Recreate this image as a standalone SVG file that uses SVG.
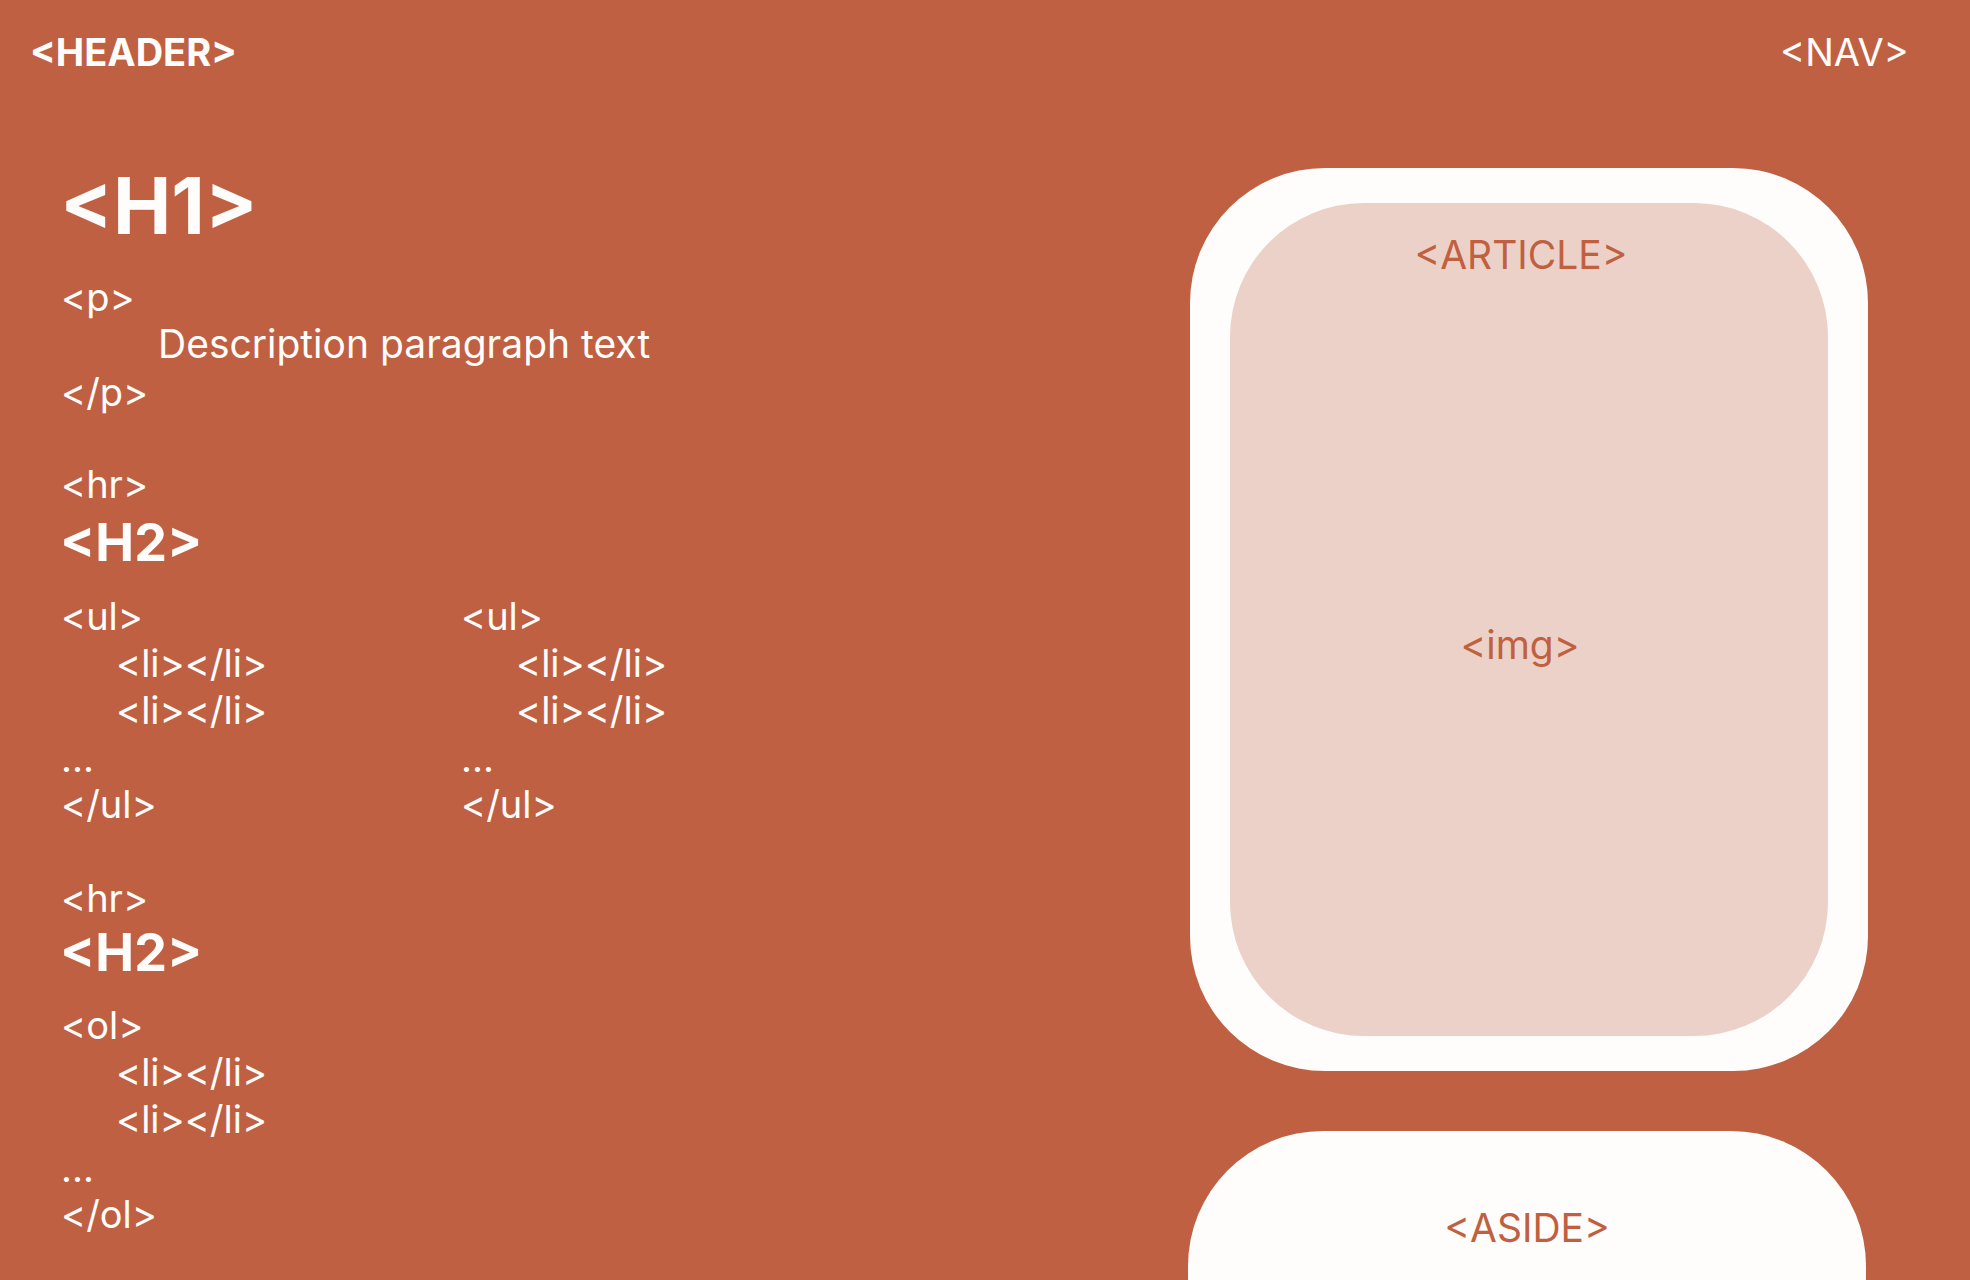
<svg xmlns="http://www.w3.org/2000/svg" width="1970" height="1280" viewBox="0 0 1970 1280">
<style>
.t{font-family:Inter,"Noto Sans",sans-serif;fill:#fffdfb;font-size:38px;font-weight:400}
.b{font-family:Inter,"Noto Sans",sans-serif;fill:#fffdfb;font-weight:700}
.h2{font-size:52px}
.o{font-family:Inter,"Noto Sans",sans-serif;fill:#c0603f;font-size:39px;font-weight:400;text-anchor:middle}
</style>
<rect width="1970" height="1280" fill="#bf6042"/>
<g id="header"><text class="b" x="30" y="66" font-size="38">&lt;HEADER&gt;</text></g>
<g id="nav"><text class="t" x="1780" y="66">&lt;NAV&gt;</text></g>
<g id="content">
<text class="b" x="60" y="234" font-size="78">&lt;H1&gt;</text>
<text class="t" x="61" y="311">&lt;p&gt;</text>
<text class="t" x="158" y="358" style="font-size:39px">Description paragraph text</text>
<text class="t" x="61" y="406">&lt;/p&gt;</text>
<text class="t" x="61" y="498">&lt;hr&gt;</text>
<text class="b h2" x="60" y="561">&lt;H2&gt;</text>
<text class="t" x="61" y="630">&lt;ul&gt;</text>
<text class="t" x="116" y="677">&lt;li&gt;&lt;/li&gt;</text>
<text class="t" x="116" y="724">&lt;li&gt;&lt;/li&gt;</text>
<text class="t" x="61" y="772">...</text>
<text class="t" x="61" y="818">&lt;/ul&gt;</text>
<text class="t" x="461" y="630">&lt;ul&gt;</text>
<text class="t" x="516" y="677">&lt;li&gt;&lt;/li&gt;</text>
<text class="t" x="516" y="724">&lt;li&gt;&lt;/li&gt;</text>
<text class="t" x="461" y="772">...</text>
<text class="t" x="461" y="818">&lt;/ul&gt;</text>
<text class="t" x="61" y="912">&lt;hr&gt;</text>
<text class="b h2" x="60" y="971">&lt;H2&gt;</text>
<text class="t" x="61" y="1039">&lt;ol&gt;</text>
<text class="t" x="116" y="1086">&lt;li&gt;&lt;/li&gt;</text>
<text class="t" x="116" y="1133">&lt;li&gt;&lt;/li&gt;</text>
<text class="t" x="61" y="1182">...</text>
<text class="t" x="61" y="1228">&lt;/ol&gt;</text>
</g>
<g id="article">
<rect x="1190" y="168" width="678" height="903" rx="135" ry="135" fill="#fffdfb"/>
<rect x="1230" y="203" width="598" height="833" rx="134" ry="134" fill="#ebd1c8"/>
<text class="o" x="1521" y="269">&lt;ARTICLE&gt;</text>
</g>
<g id="img"><text class="o" x="1520" y="659">&lt;img&gt;</text></g>
<g id="aside">
<rect x="1188" y="1131" width="678" height="420" rx="135" ry="135" fill="#fffdfb"/>
<text class="o" x="1527" y="1242">&lt;ASIDE&gt;</text>
</g>
<g id="connectors"/>
</svg>
